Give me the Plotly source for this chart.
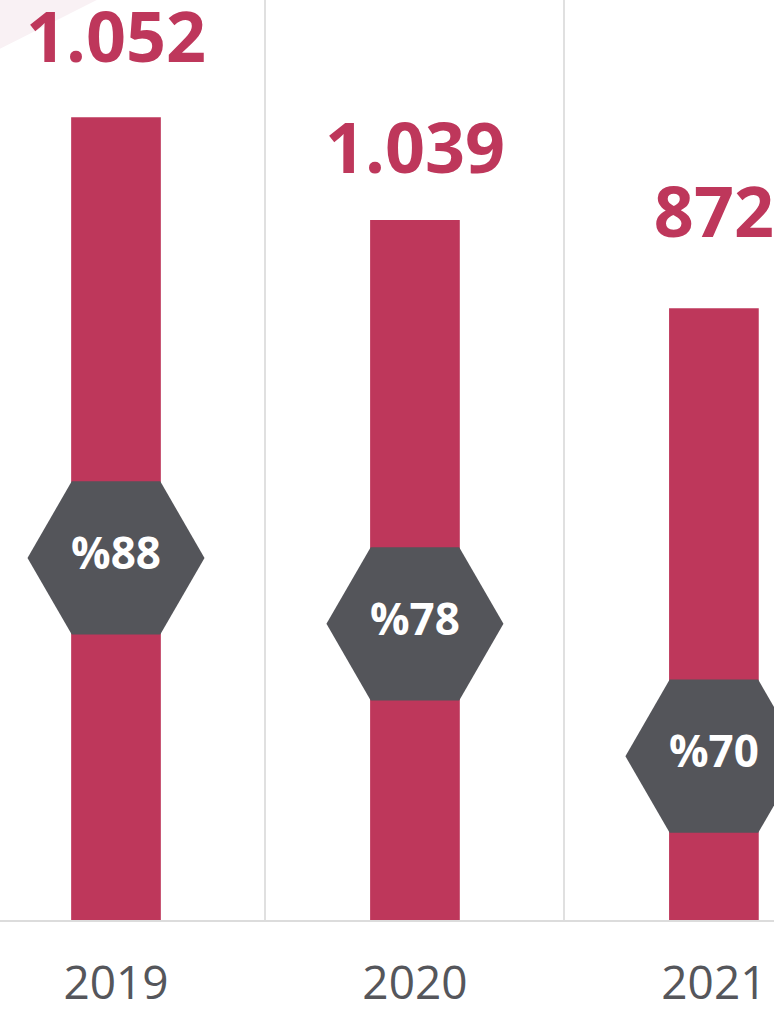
import plotly.graph_objects as go

years = ["2019", "2020", "2021"]
values = [1052, 1039, 872]
value_text = ["1.052", "1.039", "872"]
# bar heights as drawn in the picture (not proportional to the values)
bar_heights = [100, 87.2, 76.2]
shares = [88, 78, 70]
share_level = [45.1, 36.9, 20.4]
label_level = [109.0, 95.2, 87.3]

bar_color = "#BE375B"
hex_color = "#54555A"
grey_text = "#55565B"
font_family = "Open Sans, Lato, sans-serif"

x = list(range(len(years)))

fig = go.Figure()

fig.add_trace(go.Bar(
    x=x, y=bar_heights,
    width=0.3,
    marker=dict(color=bar_color, line=dict(width=0)),
    hoverinfo="skip",
))

fig.add_trace(go.Scatter(
    x=x, y=share_level,
    mode="markers+text",
    marker=dict(symbol="hexagon2", size=177, color=hex_color, line=dict(width=0)),
    text=["%" + str(s) for s in shares],
    textposition="middle center",
    textfont=dict(family=font_family, size=44, color="white", weight="bold"),
    hoverinfo="skip",
    cliponaxis=False,
))

fig.add_trace(go.Scatter(
    x=x, y=label_level,
    mode="text",
    text=value_text,
    textposition="middle center",
    textfont=dict(family=font_family, size=70, color=bar_color, weight="bold"),
    hoverinfo="skip",
    cliponaxis=False,
))

# faint decoration in the top-left corner
fig.add_shape(
    type="path", xref="paper", yref="paper",
    path="M 0 1 L 0.125 1 L 0 0.947 Z",
    fillcolor="#F9F1F4", line=dict(width=0), layer="below",
)

fig.update_layout(
    width=774, height=1010,
    margin=dict(l=0, r=0, t=0, b=90),
    paper_bgcolor="white", plot_bgcolor="white",
    showlegend=False,
    xaxis=dict(
        range=[-0.388, 2.201],
        tickvals=x, ticktext=years,
        tickfont=dict(family=font_family, size=46, color=grey_text),
        ticks="outside", ticklen=22, tickcolor="rgba(0,0,0,0)",
        showgrid=False, zeroline=False, automargin=False,
        showline=True, linecolor="#DCDCDC", linewidth=2,
        minor=dict(tickvals=[0.5, 1.5], showgrid=True, gridcolor="#E0E0E0", gridwidth=2),
    ),
    yaxis=dict(
        range=[0, 114.6], automargin=False,
        visible=False, showgrid=False, zeroline=False,
    ),
)

page_fix = (
    "document.body.style.margin='0';"
    "document.body.style.overflow='hidden';"
    "document.documentElement.style.overflow='hidden';"
    "var d=document.getElementById('{plot_id}'); if(d){d.style.display='block';}"
)
fig.write_html("out.html", config={"displayModeBar": False}, post_script=page_fix)
